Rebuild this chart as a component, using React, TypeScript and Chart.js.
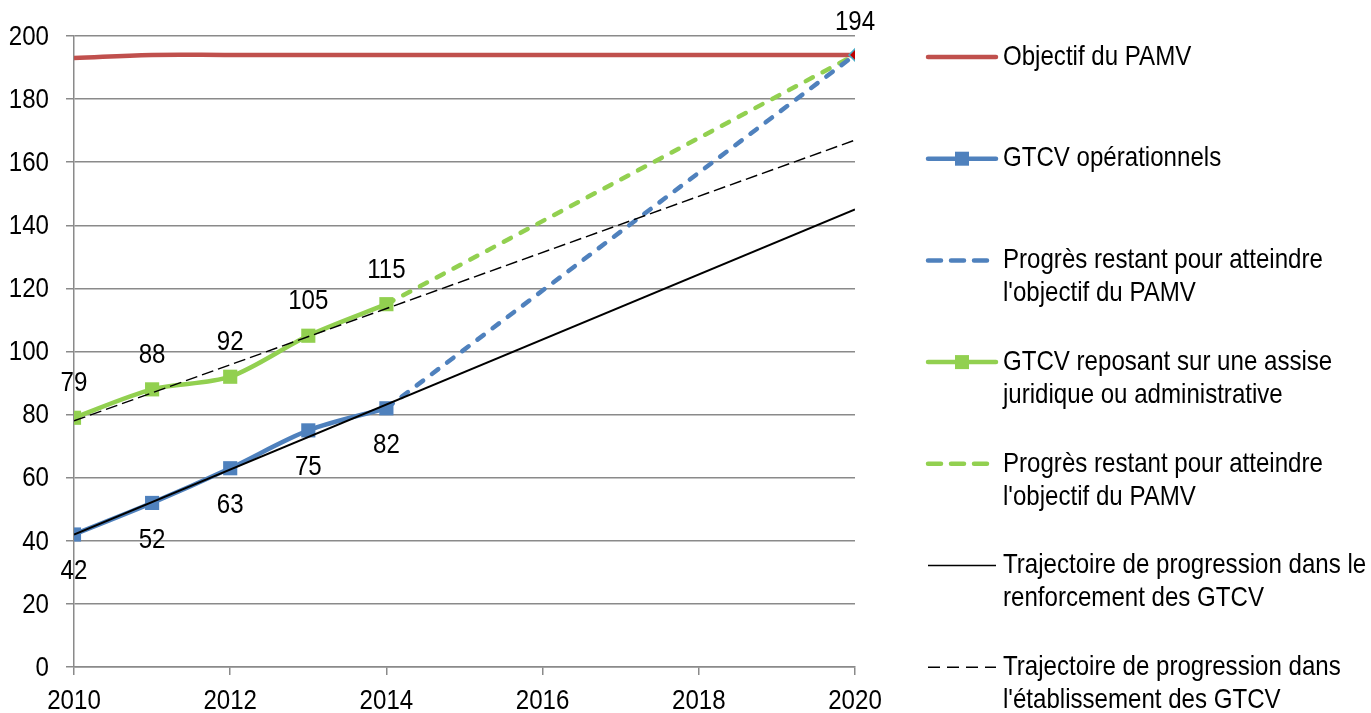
import React, { useEffect, useRef } from "react";
import { Chart, registerables } from "chart.js";
Chart.register(...registerables);

const FONT = "'Liberation Sans', Arial, sans-serif";
const FONT_SIZE = 28;
const NARROW = 0.86;

const objectifYears = [2010, 2011, 2012, 2013, 2014, 2015, 2016, 2017, 2018, 2019, 2020];
const objectifValues = [193, 194, 194, 194, 194, 194, 194, 194, 194, 194, 194];
const actualYears = [2010, 2011, 2012, 2013, 2014];
const operationnels = [42, 52, 63, 75, 82];
const reposant = [79, 88, 92, 105, 115];
const remainingYears = [2014, 2020];
const remainingOperationnels = [82, 194];
const remainingReposant = [115, 194];
const trajectoryYears = [2010, 2020];
const trajRenforcement = [42, 145];
const trajEtablissement = [78, 167];
const targetYears = [2020];
const targetValues = [194];
const yTicks = [0, 20, 40, 60, 80, 100, 120, 140, 160, 180, 200];
const xTicks = [2010, 2012, 2014, 2016, 2018, 2020];

const legendItems = [
  { lines: ["Objectif du PAMV"], color: "#C0504D", width: 4.5, dash: [] as number[], marker: false },
  { lines: ["GTCV opérationnels"], color: "#4F81BD", width: 4.5, dash: [] as number[], marker: true },
  { lines: ["Progrès restant pour atteindre", "l'objectif du PAMV"], color: "#4F81BD", width: 4.5, dash: [13, 10], marker: false },
  { lines: ["GTCV reposant sur une assise", "juridique ou administrative"], color: "#92D050", width: 4.5, dash: [] as number[], marker: true },
  { lines: ["Progrès restant pour atteindre", "l'objectif du PAMV"], color: "#92D050", width: 4.5, dash: [13, 10], marker: false },
  { lines: ["Trajectoire de progression dans le", "renforcement des GTCV"], color: "#000000", width: 1.5, dash: [] as number[], marker: false },
  { lines: ["Trajectoire de progression dans", "l'établissement des GTCV"], color: "#000000", width: 1.5, dash: [12, 7], marker: false },
];

const zip = (xs: number[], ys: number[]) => xs.map((x, i) => ({ x, y: ys[i] }));

function narrowText(ctx: CanvasRenderingContext2D, text: string, x: number, y: number, align: CanvasTextAlign) {
  ctx.save();
  ctx.translate(x, y);
  ctx.scale(NARROW, 1);
  ctx.font = `${FONT_SIZE}px ${FONT}`;
  ctx.fillStyle = "#000";
  ctx.textAlign = align;
  ctx.textBaseline = "middle";
  ctx.fillText(text, 0, 0);
  ctx.restore();
}

const axisLabelPlugin = {
  id: "axisLabels",
  afterDraw(chart: any) {
    const ctx = chart.ctx;
    const xs = chart.scales.x;
    const ys = chart.scales.y;
    yTicks.forEach((v) => narrowText(ctx, String(v), ys.left + ys.width - 25, ys.getPixelForValue(v) + 1, "right"));
    xTicks.forEach((v) => narrowText(ctx, String(v), xs.getPixelForValue(v), xs.top + 34, "center"));
  },
};

const pointLabelPlugin = {
  id: "pointLabels",
  afterDatasetsDraw(chart: any) {
    const ctx = chart.ctx;
    chart.data.datasets.forEach((ds: any, i: number) => {
      if (ds.valueLabelOffset == null) return;
      const meta = chart.getDatasetMeta(i);
      meta.data.forEach((pt: any, j: number) => {
        narrowText(ctx, String(ds.data[j].y), pt.x, pt.y + ds.valueLabelOffset, "center");
      });
    });
  },
};

const legendPlugin = {
  id: "customLegend",
  afterDraw(chart: any) {
    const ctx = chart.ctx;
    const x0 = 926, x1 = 997, tx = 1003, y0 = 57, step = 101.7, lh = 33;
    ctx.save();
    legendItems.forEach((it, i) => {
      const y = y0 + i * step;
      ctx.strokeStyle = it.color;
      ctx.lineWidth = it.width;
      ctx.lineCap = it.width > 2 ? "round" : "butt";
      ctx.setLineDash(it.dash);
      ctx.beginPath();
      ctx.moveTo(x0 + 2, y);
      ctx.lineTo(x1 - (it.dash.length && it.width > 2 ? 10 : 1), y);
      ctx.stroke();
      ctx.setLineDash([]);
      if (it.marker) {
        ctx.fillStyle = it.color;
        ctx.fillRect(962 - 7, y - 7, 14, 14);
      }
      it.lines.forEach((ln, k) => narrowText(ctx, ln, tx, y + k * lh, "left"));
    });
    ctx.restore();
  },
};

export default function App() {
  const ref = useRef<HTMLCanvasElement>(null);
  useEffect(() => {
    if (!ref.current) return;
    const chart = new Chart(ref.current, {
      type: "line",
      data: {
        datasets: [
          {
            label: "Cible",
            data: zip(targetYears, targetValues),
            showLine: false,
            pointStyle: "rectRot",
            pointRadius: 6,
            pointBackgroundColor: "#C00000",
            pointBorderColor: "#4BACC6",
            pointBorderWidth: 1.5,
            order: 0,
            valueLabelOffset: -33,
          } as any,
          {
            label: "Trajectoire renforcement",
            data: zip(trajectoryYears, trajRenforcement),
            borderColor: "#000",
            borderWidth: 2,
            pointRadius: 0,
            order: 1,
          },
          {
            label: "Trajectoire établissement",
            data: zip(trajectoryYears, trajEtablissement),
            borderColor: "#000",
            borderWidth: 1.5,
            borderDash: [12, 5],
            pointRadius: 0,
            order: 1,
          },
          {
            label: "Objectif du PAMV",
            data: zip(objectifYears, objectifValues),
            borderColor: "#C0504D",
            borderWidth: 4.5,
            pointRadius: 0,
            tension: 0.4,
            order: 5,
          },
          {
            label: "GTCV opérationnels",
            data: zip(actualYears, operationnels),
            borderColor: "#4F81BD",
            backgroundColor: "#4F81BD",
            borderWidth: 4.5,
            pointStyle: "rect",
            pointRadius: 10,
            pointBorderWidth: 0,
            pointBackgroundColor: "#4F81BD",
            tension: 0.3,
            order: 3,
            valueLabelOffset: 37,
          } as any,
          {
            label: "Progrès restant (opérationnels)",
            data: zip(remainingYears, remainingOperationnels),
            borderColor: "#4F81BD",
            borderWidth: 4.5,
            borderDash: [8, 11],
            borderCapStyle: "round",
            pointRadius: 0,
            order: 4,
          },
          {
            label: "GTCV reposant sur une assise juridique ou administrative",
            data: zip(actualYears, reposant),
            borderColor: "#92D050",
            backgroundColor: "#92D050",
            borderWidth: 4.5,
            pointStyle: "rect",
            pointRadius: 10,
            pointBorderWidth: 0,
            pointBackgroundColor: "#92D050",
            tension: 0.3,
            order: 3,
            valueLabelOffset: -34,
          } as any,
          {
            label: "Progrès restant (assise)",
            data: zip(remainingYears, remainingReposant),
            borderColor: "#92D050",
            borderWidth: 4.5,
            borderDash: [8, 11],
            borderCapStyle: "round",
            pointRadius: 0,
            order: 4,
          },
        ],
      },
      options: {
        animation: false,
        responsive: true,
        maintainAspectRatio: false,
        layout: { padding: { top: 36, right: 516, bottom: 0, left: 0 } },
        plugins: { legend: { display: false }, tooltip: { enabled: false } },
        scales: {
          x: {
            type: "linear",
            min: 2010,
            max: 2020,
            afterBuildTicks: (s: any) => { s.ticks = xTicks.map((v) => ({ value: v })); },
            afterFit: (s: any) => { s.height = 46; },
            grid: { drawOnChartArea: false, drawTicks: true, tickLength: 8, color: "#8a8a8a", lineWidth: 1.5 },
            border: { display: true, color: "#8a8a8a", width: 1.5 },
            ticks: { display: false },
          },
          y: {
            min: 0,
            max: 200,
            afterBuildTicks: (s: any) => { s.ticks = yTicks.map((v) => ({ value: v })); },
            afterFit: (s: any) => { s.width = 74; },
            grid: { color: "#8a8a8a", lineWidth: 1.5, tickLength: 8 },
            border: { display: true, color: "#8a8a8a", width: 1.5 },
            ticks: { display: false },
          },
        },
      },
      plugins: [pointLabelPlugin, axisLabelPlugin, legendPlugin],
    });
    return () => chart.destroy();
  }, []);
  return (
    <div style={{ position: "absolute", left: 0, top: 0, width: 1371, height: 713 }}>
      <canvas ref={ref} />
    </div>
  );
}
